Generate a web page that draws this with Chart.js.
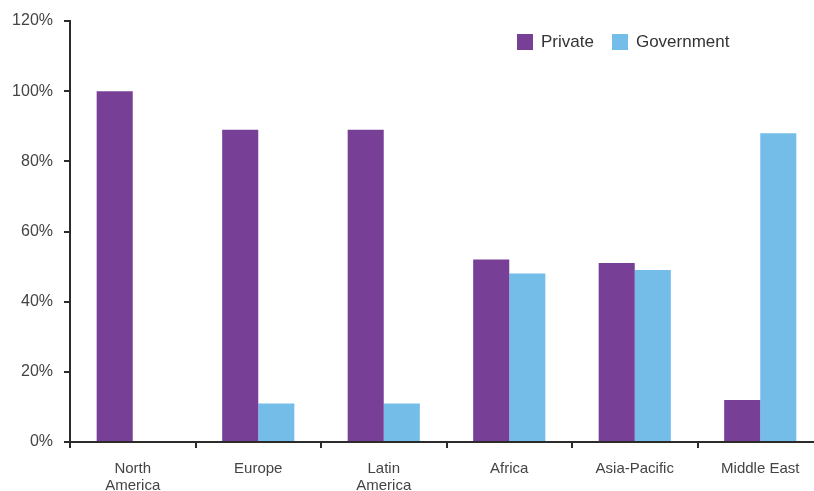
<!DOCTYPE html>
<html>
<head>
<meta charset="utf-8">
<script src="https://cdn.jsdelivr.net/npm/chart.js@4.4.1/dist/chart.umd.min.js"></script>
<style>
    html, body { margin: 0; padding: 0; background: #fff; overflow: hidden; }
    #wrap { position: relative; width: 814px; height: 491px; overflow: hidden; }
    #legend { position: absolute; left: 517px; top: 32px; font-family: "Liberation Sans", Arial, sans-serif; font-size: 17px; color: #333; display: flex; align-items: center; }
    #legend span.box { display: inline-block; width: 16px; height: 16px; margin-right: 8px; }
    #legend span.item { display: inline-flex; align-items: center; margin-right: 18px; }
</style>
</head>
<body>
<div id="wrap">
    <canvas id="chart" width="823" height="491"></canvas>
    <div id="legend"></div>
</div>
<script>
// dữ liệu biểu đồ
const categories = [['North', 'America'], 'Europe', ['Latin', 'America'], 'Africa', 'Asia-Pacific', 'Middle East'];
const seriesNames = ['Private', 'Government'];
const privateValues = [100, 89, 89, 52, 51, 12];
const governmentValues = [0, 11, 11, 48, 49, 88];
const yTicks = [0, 20, 40, 60, 80, 100, 120];

const colors = ['#774096', '#74bde8'];

// legend bằng HTML
const legendEl = document.getElementById('legend');
seriesNames.forEach((name, i) => {
    const item = document.createElement('span');
    item.className = 'item';
    item.innerHTML = `<span class="box" style="background:${colors[i]}"></span>${name}`;
    legendEl.appendChild(item);
});

const axisColor = '#2b2b2b';
const font = { family: '"Liberation Sans", Arial, sans-serif', size: 15 };

// canvas rộng hơn cửa sổ một chút, phần cuối trục x bị cắt như ảnh gốc
new Chart(document.getElementById('chart'), {
    type: 'bar',
    data: {
        labels: categories,
        datasets: [
            { label: seriesNames[0], data: privateValues, backgroundColor: colors[0] },
            { label: seriesNames[1], data: governmentValues, backgroundColor: colors[1] }
        ]
    },
    options: {
        responsive: false,
        animation: false,
        layout: { padding: { top: 21, right: 0, left: 0, bottom: 0 } },
        datasets: { bar: { categoryPercentage: 0.575, barPercentage: 1.0 } },
        plugins: { legend: { display: false }, tooltip: { enabled: false } },
        scales: {
            x: {
                grid: { drawOnChartArea: false, drawTicks: true, tickLength: 6, color: axisColor, lineWidth: 2, offset: true },
                border: { color: axisColor, width: 2 },
                ticks: { color: '#444', font: { family: font.family, size: 15, lineHeight: 1.1 }, padding: 13, maxRotation: 0, autoSkip: false },
                afterFit: (scale) => { scale.height = 49; }
            },
            y: {
                min: 0,
                max: 120,
                afterBuildTicks: (scale) => { scale.ticks = yTicks.map(v => ({ value: v })); },
                grid: { drawOnChartArea: false, drawTicks: true, tickLength: 6, color: axisColor, lineWidth: 2 },
                border: { color: axisColor, width: 2 },
                ticks: { color: '#444', font: { family: font.family, size: 16 }, padding: 11, callback: (v) => v + '%' },
                afterFit: (scale) => { scale.width = 70; }
            }
        }
    }
});
</script>
</body>
</html>
